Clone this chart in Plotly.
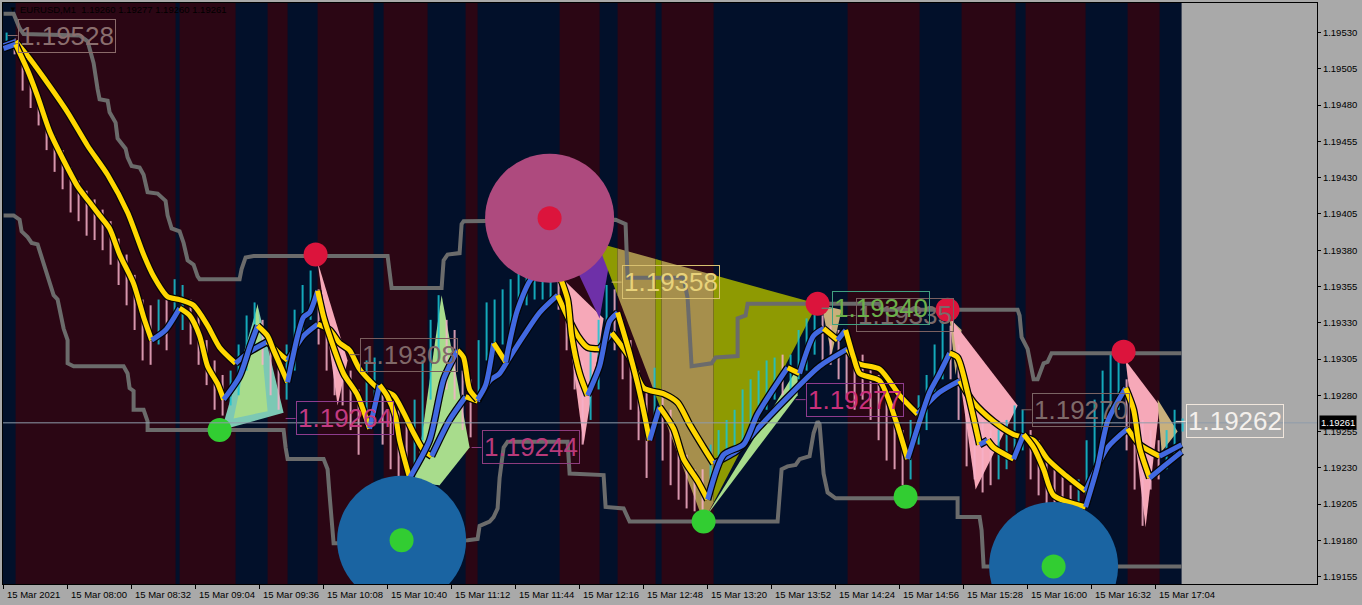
import plotly.graph_objects as go
import pandas as pd

T0 = pd.Timestamp("2021-03-15 07:28")
# all times below are minutes after the first bar (07:28)

band_edges = [0, 6, 86, 88, 116, 132, 142, 157, 185, 190, 212, 231, 237, 278, 298, 307,
              326, 329, 355, 422, 458, 479, 506, 511, 541, 562, 578, 589]
band_kinds = "nrnrnrnrnrnrnrnrnrnrnrnrnrn"
band_color = {"n": "#02102A", "r": "#2B0614"}

# 4-minute blocks of M1 bars
bar_high = [1.19530, 1.19526, 1.19515, 1.19501, 1.19487, 1.19473, 1.19459, 1.19449, 1.19437, 1.19428,
            1.19421, 1.19415, 1.19408, 1.19400, 1.19388, 1.19377, 1.19363, 1.19346, 1.19342, 1.19346,
            1.19346, 1.19360, 1.19356, 1.19346, 1.19339, 1.19318, 1.19304, 1.19294, 1.19297, 1.19315,
            1.19335, 1.19344, 1.19332, 1.19318, 1.19304, 1.19315, 1.19339, 1.19356, 1.19366, 1.19353,
            1.19339, 1.19325, 1.19315, 1.19297, 1.19284, 1.19304, 1.19306, 1.19287, 1.19277, 1.19270,
            1.19263, 1.19277, 1.19304, 1.19332, 1.19349, 1.19332, 1.19325, 1.19297, 1.19291, 1.19318,
            1.19344, 1.19346, 1.19353, 1.19360, 1.19370, 1.19373, 1.19366, 1.19370, 1.19366, 1.19363,
            1.19353, 1.19332, 1.19304, 1.19311, 1.19332, 1.19356, 1.19353, 1.19332, 1.19318, 1.19297,
            1.19284, 1.19299, 1.19284, 1.19270, 1.19249, 1.19239, 1.19229, 1.19229, 1.19246, 1.19256,
            1.19263, 1.19270, 1.19284, 1.19291, 1.19297, 1.19304, 1.19306, 1.19308, 1.19308, 1.19325,
            1.19333, 1.19339, 1.19335, 1.19328, 1.19325, 1.19311, 1.19308, 1.19308, 1.19301, 1.19294,
            1.19284, 1.19270, 1.19256, 1.19263, 1.19280, 1.19294, 1.19315, 1.19331, 1.19328, 1.19315,
            1.19297, 1.19277, 1.19263, 1.19256, 1.19256, 1.19263, 1.19273, 1.19270, 1.19256, 1.19249,
            1.19235, 1.19229, 1.19225, 1.19218, 1.19222, 1.19249, 1.19277, 1.19297, 1.19308, 1.19304,
            1.19291, 1.19277, 1.19263, 1.19256, 1.19249, 1.19256, 1.19270, 1.19264]
bar_low = [1.19519, 1.19515, 1.19490, 1.19478, 1.19466, 1.19449, 1.19434, 1.19422, 1.19406, 1.19400,
           1.19390, 1.19387, 1.19380, 1.19370, 1.19356, 1.19342, 1.19325, 1.19304, 1.19301, 1.19315,
           1.19311, 1.19332, 1.19325, 1.19315, 1.19301, 1.19287, 1.19270, 1.19266, 1.19273, 1.19280,
           1.19297, 1.19311, 1.19301, 1.19280, 1.19270, 1.19277, 1.19297, 1.19318, 1.19332, 1.19315,
           1.19297, 1.19280, 1.19273, 1.19256, 1.19239, 1.19263, 1.19270, 1.19246, 1.19229, 1.19223,
           1.19222, 1.19229, 1.19249, 1.19277, 1.19304, 1.19284, 1.19277, 1.19256, 1.19251, 1.19277,
           1.19304, 1.19308, 1.19315, 1.19325, 1.19335, 1.19342, 1.19346, 1.19346, 1.19346, 1.19339,
           1.19311, 1.19284, 1.19246, 1.19263, 1.19284, 1.19318, 1.19311, 1.19291, 1.19270, 1.19249,
           1.19223, 1.19256, 1.19235, 1.19218, 1.19208, 1.19202, 1.19200, 1.19201, 1.19208, 1.19229,
           1.19235, 1.19239, 1.19249, 1.19256, 1.19263, 1.19270, 1.19277, 1.19280, 1.19280, 1.19291,
           1.19297, 1.19308, 1.19304, 1.19301, 1.19291, 1.19277, 1.19270, 1.19277, 1.19263, 1.19249,
           1.19235, 1.19229, 1.19218, 1.19222, 1.19246, 1.19256, 1.19277, 1.19291, 1.19291, 1.19263,
           1.19231, 1.19222, 1.19213, 1.19218, 1.19222, 1.19229, 1.19242, 1.19242, 1.19222, 1.19211,
           1.19204, 1.19198, 1.19194, 1.19201, 1.19204, 1.19208, 1.19229, 1.19249, 1.19263, 1.19270,
           1.19242, 1.19215, 1.19190, 1.19215, 1.19222, 1.19229, 1.19235, 1.19255]
bar_dir = ("uddddddddd" "dddddddddu" "duuddddduu" "uuddduuuud" "ddddduuddd" "duuuuddddu"
           "uuuuuuuuud" "ddduuudddd" "dudddddduu" "uuuuuuuduu" "uudddddddd" "ddduuuuudd"
           "dddduuuudd" "dddduuuuuu" "ddddduuu")

fast_min = [0, 6, 12, 17, 23, 30, 37, 43, 48, 53, 58, 65, 70, 74, 81, 88, 93, 98, 102, 107,
            110, 118, 123, 127, 132, 135, 142, 147, 150, 153, 157, 160, 163, 170, 177, 183, 188, 192, 196, 198,
            203, 213, 220, 227, 230, 233, 237, 241, 245, 251, 257, 265, 277, 282, 284, 288, 292, 298, 303, 307,
            313, 318, 323, 328, 335, 340, 347, 352, 360, 370, 377, 392, 398, 405, 410, 417, 421, 425, 428, 438,
            446, 452, 458, 463, 468, 473, 477, 482, 488, 492, 495, 505, 510, 515, 520, 525, 541, 547, 552, 561,
            565, 568, 573, 580, 589]
fast_val = [1.19519, 1.19522, 1.19504, 1.19486, 1.19462, 1.19442, 1.19424, 1.19413, 1.19404, 1.19395,
            1.19377, 1.19357, 1.19334, 1.19318, 1.19325, 1.19340, 1.19335, 1.19321, 1.19300, 1.19288,
            1.19277, 1.19293, 1.19313, 1.19328, 1.19321, 1.19311, 1.19289, 1.19321, 1.19334, 1.19337,
            1.19352, 1.19334, 1.19321, 1.19295, 1.19280, 1.19257, 1.19287, 1.19279, 1.19265, 1.19249,
            1.19223, 1.19249, 1.19291, 1.19311, 1.19306, 1.19284, 1.19277, 1.19287, 1.19316, 1.19303,
            1.19339, 1.19362, 1.19366, 1.19346, 1.19321, 1.19295, 1.19280, 1.19300, 1.19331, 1.19337,
            1.19309, 1.19282, 1.19249, 1.19272, 1.19257, 1.19236, 1.19221, 1.19208, 1.19239, 1.19246,
            1.19267, 1.19299, 1.19295, 1.19321, 1.19326, 1.19318, 1.19325, 1.19306, 1.19295, 1.19290,
            1.19263, 1.19236, 1.19262, 1.19282, 1.19295, 1.19309, 1.19306, 1.19282, 1.19246, 1.19249,
            1.19244, 1.19236, 1.19253, 1.19244, 1.19229, 1.19211, 1.19203, 1.19231, 1.19262, 1.19285,
            1.19270, 1.19244, 1.19223, 1.19231, 1.19241]

slow_min = [0, 6, 12, 20, 32, 42, 52, 62, 70, 75, 82, 88, 95, 102, 108, 116, 123, 132, 137, 142,
            150, 157, 163, 168, 173, 178, 187, 195, 200, 205, 210, 214, 223, 231, 237, 243, 248, 253, 260, 268,
            277, 282, 287, 292, 298, 304, 313, 320, 330, 337, 343, 350, 355, 367, 377, 393, 408, 422, 427, 438,
            448, 457, 468, 478, 485, 495, 505, 515, 522, 530, 541, 552, 562, 568, 578, 589]
slow_val = [1.19521, 1.19524, 1.19514, 1.19499, 1.19475, 1.19452, 1.19432, 1.19406, 1.19377, 1.19362,
            1.19348, 1.19346, 1.19342, 1.19328, 1.19313, 1.19302, 1.19310, 1.19317, 1.19310, 1.19304,
            1.19321, 1.19329, 1.19325, 1.19316, 1.19311, 1.19298, 1.19285, 1.19280, 1.19268, 1.19254,
            1.19242, 1.19238, 1.19263, 1.19279, 1.19276, 1.19290, 1.19295, 1.19306, 1.19321, 1.19337,
            1.19349, 1.19334, 1.19321, 1.19313, 1.19312, 1.19323, 1.19306, 1.19285, 1.19281, 1.19275,
            1.19260, 1.19244, 1.19233, 1.19242, 1.19257, 1.19280, 1.19300, 1.19312, 1.19302, 1.19298,
            1.19280, 1.19267, 1.19282, 1.19290, 1.19275, 1.19262, 1.19253, 1.19249, 1.19236, 1.19226,
            1.19214, 1.19244, 1.19257, 1.19246, 1.19238, 1.19246]

upper_min = [0, 5, 8, 10, 38, 42, 43, 45, 47, 48, 52, 53, 56, 57, 61, 62, 64, 68, 70, 72,
             77, 81, 82, 84, 88, 90, 92, 95, 97, 98, 118, 119, 121, 125, 192, 193, 194, 219, 220, 222,
             228, 229, 230, 306, 311, 312, 340, 342, 343, 344, 354, 356, 367, 367, 371, 372, 438, 439, 507, 508,
             509, 512, 515, 517, 520, 522, 524, 589]
upper_val = [1.19543, 1.19543, 1.19533, 1.19529, 1.19528, 1.19524, 1.19519, 1.19509, 1.19491, 1.19484,
             1.19483, 1.19475, 1.19468, 1.19457, 1.19450, 1.19444, 1.19438, 1.19437, 1.19432, 1.19420,
             1.19419, 1.19414, 1.19404, 1.19395, 1.19393, 1.19385, 1.19373, 1.19370, 1.19362, 1.19360,
             1.19360, 1.19367, 1.19375, 1.19376, 1.19376, 1.19367, 1.19354, 1.19354, 1.19373, 1.19377,
             1.19378, 1.19398, 1.19400, 1.19401, 1.19398, 1.19361, 1.19361, 1.19347, 1.19321, 1.19300,
             1.19302, 1.19306, 1.19307, 1.19333, 1.19335, 1.19343, 1.19343, 1.19339, 1.19339, 1.19335,
             1.19320, 1.19312, 1.19291, 1.19291, 1.19302, 1.19303, 1.19309, 1.19309]

lower_min = [0, 5, 8, 9, 12, 14, 17, 19, 21, 23, 25, 27, 30, 32, 32, 35, 60, 62, 63, 65,
             65, 70, 72, 72, 140, 141, 142, 160, 162, 163, 165, 168, 232, 237, 238, 243, 245, 247, 248, 250,
             252, 282, 283, 300, 301, 310, 312, 313, 387, 388, 389, 392, 396, 398, 403, 405, 407, 408, 410, 412,
             416, 477, 477, 488, 489, 490, 589]
lower_val = [1.19404, 1.19404, 1.19401, 1.19393, 1.19389, 1.19385, 1.19384, 1.19375, 1.19365, 1.19357,
             1.19349, 1.19346, 1.19326, 1.19318, 1.19302, 1.19300, 1.19300, 1.19295, 1.19285, 1.19283,
             1.19270, 1.19270, 1.19262, 1.19256, 1.19256, 1.19244, 1.19236, 1.19236, 1.19229, 1.19211,
             1.19178, 1.19178, 1.19180, 1.19181, 1.19190, 1.19193, 1.19196, 1.19202, 1.19223, 1.19244,
             1.19248, 1.19248, 1.19226, 1.19225, 1.19203, 1.19202, 1.19195, 1.19193, 1.19193, 1.19208,
             1.19229, 1.19231, 1.19232, 1.19236, 1.19238, 1.19254, 1.19262, 1.19260, 1.19226, 1.19213,
             1.19209, 1.19209, 1.19196, 1.19196, 1.19187, 1.19162, 1.19162]

swing_high_min = [156, 273, 407, 472, 560]
swing_high_val = [1.19377, 1.19402, 1.19343, 1.19339, 1.19310]
swing_low_min = [108, 199, 350, 451, 525]
swing_low_val = [1.19256, 1.19180, 1.19193, 1.19210, 1.19162]
big_pink_min, big_pink_val = [273], [1.19402]
big_blue_min, big_blue_val = [199, 525], [1.19180, 1.19162]

# zigzag wedges: (minute, price) corners
poly_teal_a = [(109, 1.19256), (127, 1.19342), (140, 1.19268)]
poly_green_a = [(115, 1.19264), (127, 1.19343), (132, 1.19269)]
poly_pink_a = [(157, 1.19372), (172, 1.19304), (167, 1.19273)]
poly_green_b = [(219, 1.19349), (233, 1.19244), (218, 1.19218), (206, 1.19221)]
poly_teal_b = [(205, 1.19220), (212, 1.19263), (218, 1.19218)]
poly_purple = [(286, 1.19368), (304, 1.19380), (298, 1.19333)]
poly_pink_b = [(279, 1.19361), (300, 1.19333), (290, 1.19246)]
poly_olive = [(297, 1.19385), (407, 1.19343), (350, 1.19193)]
poly_green_c = [(351, 1.19196), (397, 1.19299), (397, 1.19280)]
poly_tan_a = [(409, 1.19342), (419, 1.19339), (414, 1.19308)]
poly_tan_b = [(473, 1.19333), (479, 1.19325), (476, 1.19294)]
poly_pink_c = [(474, 1.19332), (507, 1.19273), (486, 1.19215)]
poly_pink_d = [(561, 1.19304), (578, 1.19273), (571, 1.19189)]
poly_tan_c = [(577, 1.19277), (587, 1.19255), (579, 1.19241)]

label_text = ["1.19528", "1.19308", "1.19264", "1.19244", "1.19358", "1.19335", "1.19340", "1.19277", "1.19270", "1.19262"]
label_min = [7, 178, 146, 239, 309, 426, 414, 401, 514, 591]
label_val = [1.19528, 1.19308, 1.19264, 1.19244, 1.19358, 1.19335, 1.19340, 1.19277, 1.19270, 1.19262]
label_color = ["#8A6E6E", "#806868", "#C23A82", "#B83A7A", "#E8D27A", "#7A6A6A", "#6CB04A", "#C8307A", "#7E6A6A", "#F4F0EC"]
label_edge = ["#8A6A6A", "#7A5E5E", "#8E3C8E", "#8E3C7E", "#D8C070", "#7A6060", "#40A080", "#8E3C8E", "#7A6464", "#F0E6DC"]

tick_labels = ["15 Mar 2021", "15 Mar 08:00", "15 Mar 08:32", "15 Mar 09:04", "15 Mar 09:36", "15 Mar 10:08",
               "15 Mar 10:40", "15 Mar 11:12", "15 Mar 11:44", "15 Mar 12:16", "15 Mar 12:48", "15 Mar 13:20",
               "15 Mar 13:52", "15 Mar 14:24", "15 Mar 14:56", "15 Mar 15:28", "15 Mar 16:00", "15 Mar 16:32",
               "15 Mar 17:04"]
last_price = 1.19261

GRAY = "#A9A9A9"
FONT = "Liberation Sans"


def tm(m):
    return T0 + pd.Timedelta(minutes=m)


def clip_x(poly, lo, hi):
    def cut(pts, inside, xe):
        out = []
        for i in range(len(pts)):
            p, q = pts[i - 1], pts[i]
            if inside(q):
                if not inside(p):
                    t = (xe - p[0]) / (q[0] - p[0])
                    out.append((xe, p[1] + t * (q[1] - p[1])))
                out.append(q)
            elif inside(p):
                t = (xe - p[0]) / (q[0] - p[0])
                out.append((xe, p[1] + t * (q[1] - p[1])))
        return out
    pts = cut(poly, lambda p: p[0] >= lo, lo)
    if pts:
        pts = cut(pts, lambda p: p[0] <= hi, hi)
    return pts


def add_fill(fig, poly, color):
    xs = [tm(p[0]) for p in poly] + [tm(poly[0][0])]
    ys = [p[1] for p in poly] + [poly[0][1]]
    fig.add_trace(go.Scatter(x=xs, y=ys, mode="lines", fill="toself", fillcolor=color,
                             line=dict(width=0), hoverinfo="skip", showlegend=False))


def runs(vals):
    out, start, cur = [], 0, None
    for i in range(1, len(vals)):
        up = vals[i] > vals[i - 1]
        if cur is None:
            cur = up
        elif up != cur:
            out.append((start, i - 1, cur))
            start, cur = i - 1, up
    out.append((start, len(vals) - 1, cur))
    return out


def add_ma(fig, mins, vals):
    parts = runs(vals)
    for a, b, up in parts:
        fig.add_trace(go.Scatter(x=[tm(m) for m in mins[a:b + 1]], y=vals[a:b + 1], mode="lines",
                                 line=dict(color="#050505", width=7.5, shape="spline", smoothing=0.7),
                                 hoverinfo="skip", showlegend=False))
    for a, b, up in parts:
        fig.add_trace(go.Scatter(x=[tm(m) for m in mins[a:b + 1]], y=vals[a:b + 1], mode="lines",
                                 line=dict(color="#4169E1" if up else "#FFD700", width=5,
                                           shape="spline", smoothing=0.7),
                                 hoverinfo="skip", showlegend=False))


fig = go.Figure()

# session bands: navy underlay, maroon sessions on top
fig.add_shape(type="rect", xref="x", yref="paper", x0=tm(-1), x1=tm(band_edges[-1]), y0=0, y1=1,
              fillcolor=band_color["n"], line=dict(width=0), layer="below")
for i, kind in enumerate(band_kinds):
    if kind == "r":
        fig.add_shape(type="rect", xref="x", yref="paper", x0=tm(band_edges[i]), x1=tm(band_edges[i + 1]),
                      y0=0, y1=1, fillcolor=band_color[kind], line=dict(width=0), layer="below")

# wedges
add_fill(fig, poly_teal_a, "#7CC8B4")
add_fill(fig, poly_green_a, "#A8DC8C")
add_fill(fig, poly_pink_a, "#F6A8B8")
add_fill(fig, poly_teal_b, "#7CC8B4")
add_fill(fig, poly_green_b, "#A8DC8C")
add_fill(fig, poly_pink_b, "#F6A8B8")
add_fill(fig, poly_purple, "#6E30A8")
for i, kind in enumerate(band_kinds):
    piece = clip_x(poly_olive, band_edges[i], band_edges[i + 1])
    if len(piece) >= 3:
        add_fill(fig, piece, "#8E9A02" if kind == "n" else "#A68F4C")
add_fill(fig, poly_green_c, "#A8DC8C")
add_fill(fig, poly_tan_a, "#C8B07C")
add_fill(fig, poly_tan_b, "#C8B07C")
add_fill(fig, poly_pink_c, "#F6A8B8")
add_fill(fig, poly_pink_d, "#F6A8B8")
add_fill(fig, poly_tan_c, "#C8B07C")

# price bars
ux, uy, dx, dy = [], [], [], []
for k, (h, l, d) in enumerate(zip(bar_high, bar_low, bar_dir)):
    t = tm(4 * k + 1.5)
    if d == "u":
        ux += [t, t, None]; uy += [l, h, None]
    else:
        dx += [t, t, None]; dy += [l, h, None]
fig.add_trace(go.Scatter(x=dx, y=dy, mode="lines", line=dict(color="rgba(246,176,200,0.85)", width=2),
                         hoverinfo="skip", showlegend=False))
fig.add_trace(go.Scatter(x=ux, y=uy, mode="lines", line=dict(color="rgba(24,196,212,0.85)", width=2),
                         hoverinfo="skip", showlegend=False))

# channel
for mins, vals in [(upper_min, upper_val), (lower_min, lower_val)]:
    fig.add_trace(go.Scatter(x=[tm(m) for m in mins], y=vals, mode="lines",
                             line=dict(color="#6B6B6B", width=4), hoverinfo="skip", showlegend=False))

# moving averages, blue while rising and gold while falling
add_ma(fig, slow_min, slow_val)
add_ma(fig, fast_min, fast_val)

# swing zones and points
fig.add_trace(go.Scatter(x=[tm(m) for m in big_pink_min], y=big_pink_val, mode="markers",
                         marker=dict(size=129, color="#AE4A7E", line=dict(width=0)), hoverinfo="skip", showlegend=False))
fig.add_trace(go.Scatter(x=[tm(m) for m in big_blue_min], y=big_blue_val, mode="markers",
                         marker=dict(size=129, color="#1A64A2", line=dict(width=0)), hoverinfo="skip", showlegend=False))
fig.add_trace(go.Scatter(x=[tm(m) for m in swing_high_min], y=swing_high_val, mode="markers",
                         marker=dict(size=24, color="#DC143C", line=dict(width=0)), hoverinfo="skip", showlegend=False))
fig.add_trace(go.Scatter(x=[tm(m) for m in swing_low_min], y=swing_low_val, mode="markers",
                         marker=dict(size=24, color="#32CD32", line=dict(width=0)), hoverinfo="skip", showlegend=False))

# price labels
for t, m, v, c, e in zip(label_text, label_min, label_val, label_color, label_edge):
    fig.add_shape(type="line", xref="x", yref="y", x0=tm(m - 5), x1=tm(m), y0=v, y1=v,
                  line=dict(color=e, width=1))
    fig.add_annotation(x=tm(m), y=v, xref="x", yref="y", text=t, showarrow=False,
                       xanchor="left", yanchor="middle", bordercolor=e, borderwidth=1, borderpad=1,
                       font=dict(family=FONT, size=26, color=c))

# last price line and tag
fig.add_shape(type="line", xref="paper", yref="y", x0=0, x1=1, y0=last_price, y1=last_price,
              line=dict(color="#8E9CAA", width=1))
fig.add_annotation(xref="paper", yref="y", x=1, y=last_price, text=f"{last_price:.5f}", showarrow=False,
                   xanchor="left", yanchor="middle", xshift=2, bgcolor="black", borderpad=1,
                   font=dict(family=FONT, size=9.5, color="white"))

# time labels, left aligned at each tick
tick_min = [32 * i for i in range(len(tick_labels))]
for m, t in zip(tick_min, tick_labels):
    fig.add_annotation(x=tm(m), y=0, xref="x", yref="paper", text=t, showarrow=False,
                       xanchor="left", yanchor="top", xshift=1, yshift=-3,
                       font=dict(family=FONT, size=9.5, color="black"))

fig.add_annotation(xref="paper", yref="paper", x=0.0115, y=0.989, text="EURUSD,M1  1.19260 1.19277 1.19260 1.19261",
                   showarrow=False, xanchor="left", yanchor="middle", font=dict(family=FONT, size=9.5, color="black"))
fig.add_annotation(xref="paper", yref="paper", x=0.003, y=0.989, text="▼", showarrow=False,
                   xanchor="left", yanchor="middle", font=dict(family=FONT, size=8, color="black"))

fig.update_layout(
    width=1362, height=605,
    margin=dict(l=3, r=45, t=3, b=21),
    paper_bgcolor=GRAY, plot_bgcolor=GRAY,
    showlegend=False,
    xaxis=dict(type="date", range=[tm(-0.3), tm(656.7)], showgrid=False, zeroline=False,
               showline=True, mirror=True, linecolor="black", linewidth=1,
               tickvals=[tm(m) for m in tick_min], showticklabels=False,
               ticks="outside", ticklen=4, tickcolor="black", automargin=False),
    yaxis=dict(side="right", range=[1.191499, 1.195504], tick0=1.19155, dtick=0.00025, tickformat=".5f",
               showgrid=False, zeroline=False, showline=True, mirror=True, linecolor="black", linewidth=1,
               ticks="outside", ticklen=3, tickcolor="black", automargin=False,
               tickfont=dict(family=FONT, size=9.5, color="black")),
)

fig.write_html("out.html", config={"displayModeBar": False},
               post_script="document.body.style.margin='0';document.body.style.overflow='hidden';")
